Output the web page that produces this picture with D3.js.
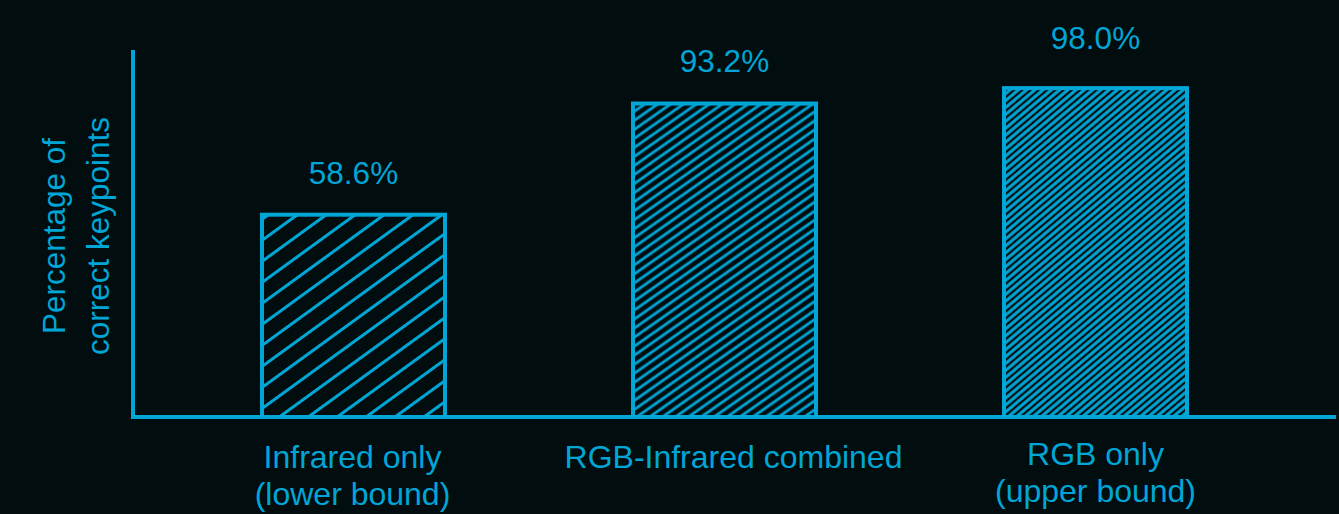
<!DOCTYPE html>
<html>
<head>
<meta charset="utf-8">
<script src="https://cdn.jsdelivr.net/npm/d3@7"></script>
<style>
  html, body { margin: 0; padding: 0; background: #010d0e; }
  svg { display: block; }
  text { font-family: "Liberation Sans", Arial, sans-serif; }
</style>
</head>
<body>
<svg id="chart" width="1339" height="514"></svg>
<script>
// Percentage of correct keypoints per input modality
const categories = [
  ["Infrared only", "(lower bound)"],
  ["RGB-Infrared combined"],
  ["RGB only", "(upper bound)"]
];
const values = [58.6, 93.2, 98.0];
const valueLabels = ["58.6%", "93.2%", "98.0%"];
const yTitle = ["Percentage of", "correct keypoints"];

const ink = "#00a6d6";
const bg = "#010d0e";

const svg = d3.select("#chart");
const W = 1339, H = 514;
svg.append("rect").attr("width", W).attr("height", H).attr("fill", bg);

const axisX = 133, axisY = 417;

// hatch density increases with the bar's score
const hatch = [
  { spacing: 17, angle: -36, width: 3 },
  { spacing: 7.4, angle: -35, width: 2.9 },
  { spacing: 5.3, angle: -40, width: 2.9 }
];
const labelLift = [29, 30, 37];
const catBaselines = [468, 468, 465];
const catShift = [-1, 9, 0];

const x = d3.scaleBand()
  .domain(d3.range(values.length))
  .range([74.5, 1374.5])
  .paddingInner(0.496)
  .paddingOuter(0.5);

const y = d3.scaleLinear().domain([-5, 100]).range([axisY, 79.7]);

const defs = svg.append("defs");
hatch.forEach((h, i) => {
  const p = defs.append("pattern")
    .attr("id", "hatch" + i)
    .attr("patternUnits", "userSpaceOnUse")
    .attr("width", 40)
    .attr("height", h.spacing)
    .attr("patternTransform", `rotate(${h.angle})`);
  p.append("line")
    .attr("x1", -5).attr("x2", 45)
    .attr("y1", h.spacing / 2).attr("y2", h.spacing / 2)
    .attr("stroke", ink)
    .attr("stroke-width", h.width);
});

const sw = 4;
const bars = svg.append("g");
bars.selectAll("rect")
  .data(values)
  .join("rect")
  .attr("x", (d, i) => x(i) + sw / 2)
  .attr("width", x.bandwidth() - sw)
  .attr("y", d => y(d) + sw / 2)
  .attr("height", d => axisY - y(d) - sw / 2)
  .attr("fill", (d, i) => `url(#hatch${i})`)
  .attr("stroke", ink)
  .attr("stroke-width", sw);

// value labels
svg.append("g").selectAll("text")
  .data(values)
  .join("text")
  .attr("x", (d, i) => x(i) + x.bandwidth() / 2)
  .attr("y", (d, i) => y(d) - labelLift[i])
  .attr("text-anchor", "middle")
  .attr("font-size", 31.5)
  .attr("fill", ink)
  .text((d, i) => valueLabels[i]);

// axes
svg.append("path")
  .attr("d", `M${axisX},50 V${axisY} H1336`)
  .attr("fill", "none")
  .attr("stroke", ink)
  .attr("stroke-width", 4);

// category labels
const cat = svg.append("g").selectAll("text")
  .data(categories)
  .join("text")
  .attr("text-anchor", "middle")
  .attr("font-size", 32)
  .attr("fill", ink)
  .attr("x", (d, i) => x(i) + x.bandwidth() / 2 + catShift[i])
  .attr("y", (d, i) => catBaselines[i]);
cat.selectAll("tspan")
  .data(d => d)
  .join("tspan")
  .attr("x", function () { return d3.select(this.parentNode).attr("x"); })
  .attr("dy", (d, j) => j === 0 ? 0 : 37)
  .text(d => d);

// y-axis title
const yt = svg.append("text")
  .attr("transform", "translate(65,236) rotate(-90)")
  .attr("text-anchor", "middle")
  .attr("font-size", 31.5)
  .attr("fill", ink);
yt.selectAll("tspan")
  .data(yTitle)
  .join("tspan")
  .attr("x", 0)
  .attr("dy", (d, j) => j === 0 ? 0 : 44)
  .text(d => d);
</script>
</body>
</html>
